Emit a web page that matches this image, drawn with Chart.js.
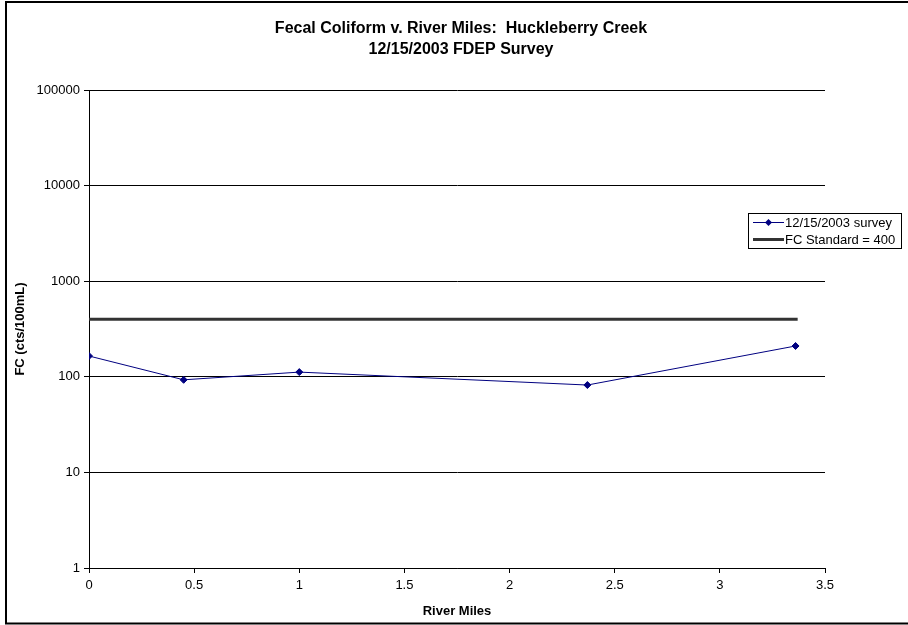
<!DOCTYPE html>
<html lang="en">
<head>
    <meta charset="UTF-8">
    <title>Fecal Coliform v. River Miles</title>
    <script src="https://cdn.jsdelivr.net/npm/chart.js"></script>
    <style>
        body, html { margin: 0; padding: 0; background: #fff; overflow: hidden; }
        #wrap { width: 908px; height: 625px; position: relative; }
    </style>
</head>
<body>
<div id="wrap"><canvas id="fcChart"></canvas></div>
<script>
    const riverMiles = [0, 0.45, 1.0, 2.37, 3.36];
    const fcCounts = [165, 93, 112, 82, 210];
    const standardMiles = [0, 3.37];
    const standardValue = [400, 400];
    const yTicks = [1, 10, 100, 1000, 10000, 100000];
    const titleLines = ['Fecal Coliform v. River Miles:  Huckleberry Creek', '12/15/2003 FDEP Survey'];

    const FONT = 'Arial, "Liberation Sans", sans-serif';

    // outer frame, title and the floating legend, Excel style
    const frameAndLegend = {
        id: 'frameAndLegend',
        afterDraw(chart) {
            const c = chart.ctx;
            c.save();
            c.strokeStyle = '#000';
            c.lineWidth = 2;
            c.beginPath();
            c.moveTo(908, 2); c.lineTo(6, 2); c.lineTo(6, 623.5); c.lineTo(908, 623.5);
            c.stroke();

            // title
            c.fillStyle = '#000';
            c.font = 'bold 16px ' + FONT;
            c.textAlign = 'center';
            c.textBaseline = 'middle';
            c.fillText(titleLines[0], 461, 29);
            c.fillText(titleLines[1], 461, 50);

            // legend
            c.textAlign = 'left';
            c.lineWidth = 1;
            c.fillStyle = '#fff';
            c.fillRect(748.5, 213.5, 153, 35);
            c.strokeRect(748.5, 213.5, 153, 35);

            c.strokeStyle = '#000080';
            c.beginPath(); c.moveTo(753, 222.5); c.lineTo(784, 222.5); c.stroke();
            c.fillStyle = '#000080';
            c.beginPath();
            c.moveTo(768.5, 219); c.lineTo(772, 222.5); c.lineTo(768.5, 226); c.lineTo(765, 222.5);
            c.closePath(); c.fill();

            c.strokeStyle = '#333';
            c.lineWidth = 3;
            c.beginPath(); c.moveTo(753, 239.5); c.lineTo(784, 239.5); c.stroke();

            c.fillStyle = '#000';
            c.font = '13px ' + FONT;
            c.fillText('12/15/2003 survey', 785, 223);
            c.fillText('FC Standard = 400', 785, 240);
            c.restore();
        }
    };

    const ctx = document.getElementById('fcChart').getContext('2d');
    new Chart(ctx, {
        type: 'line',
        data: {
            datasets: [
                {
                    label: '12/15/2003 survey',
                    data: riverMiles.map((x, i) => ({ x: x, y: fcCounts[i] })),
                    borderColor: '#000080',
                    backgroundColor: '#000080',
                    borderWidth: 1,
                    pointStyle: 'rectRot',
                    pointRadius: 3.5,
                    pointHoverRadius: 3.5,
                    tension: 0
                },
                {
                    label: 'FC Standard = 400',
                    data: standardMiles.map((x, i) => ({ x: x, y: standardValue[i] })),
                    borderColor: '#333333',
                    borderWidth: 3,
                    pointRadius: 0,
                    tension: 0
                }
            ]
        },
        options: {
            responsive: true,
            maintainAspectRatio: false,
            animation: false,
            layout: { padding: { left: 13, right: 83, top: 90, bottom: 6 } },
            scales: {
                x: {
                    type: 'linear',
                    min: 0,
                    max: 3.5,
                    ticks: {
                        stepSize: 0.5,
                        color: '#000',
                        font: { family: FONT, size: 13 },
                        padding: 5,
                        callback: (v) => String(v)
                    },
                    grid: { drawOnChartArea: false, drawTicks: true, tickLength: 5, color: '#000' },
                    border: { color: '#000', width: 1 },
                    title: {
                        display: true,
                        text: 'River Miles',
                        color: '#000',
                        font: { family: FONT, size: 13, weight: 'bold' },
                        padding: { top: 5, bottom: 0 }
                    },
                    afterFit(scale) { scale.height = 51; }
                },
                y: {
                    type: 'logarithmic',
                    min: 1,
                    max: 100000,
                    afterBuildTicks(scale) { scale.ticks = yTicks.map(v => ({ value: v })); },
                    ticks: {
                        color: '#000',
                        font: { family: FONT, size: 13 },
                        padding: 4,
                        callback: (v) => String(v)
                    },
                    grid: { color: '#000', lineWidth: 1, tickLength: 5 },
                    border: { color: '#000', width: 1 },
                    title: {
                        display: true,
                        text: 'FC (cts/100mL)',
                        color: '#000',
                        font: { family: FONT, size: 13, weight: 'bold' },
                        padding: { top: 0, bottom: 4 }
                    },
                    afterFit(scale) { scale.width = 76; }
                }
            },
            plugins: {
                legend: { display: false },
                tooltip: { enabled: false },
                title: { display: false }
            }
        },
        plugins: [frameAndLegend]
    });
</script>
</body>
</html>
